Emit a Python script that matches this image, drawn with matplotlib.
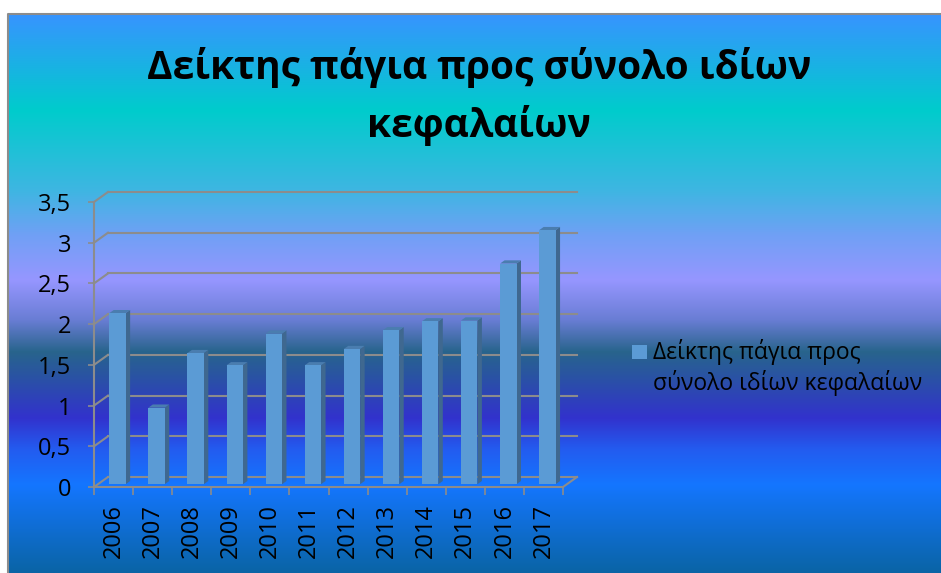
import matplotlib
matplotlib.use('Agg')
import matplotlib.pyplot as plt
import numpy as np
from matplotlib.patches import Polygon, Rectangle

plt.rcParams['font.family'] = ['Open Sans', 'DejaVu Sans']

years = ['2006', '2007', '2008', '2009', '2010', '2011',
         '2012', '2013', '2014', '2015', '2016', '2017']
values = [2.10, 0.94, 1.61, 1.46, 1.85, 1.46, 1.66, 1.89, 2.00, 2.01, 2.71, 3.12]
yticks = [0, 0.5, 1, 1.5, 2, 2.5, 3, 3.5]
ytick_labels = ['0', '0,5', '1', '1,5', '2', '2,5', '3', '3,5']
title_lines = ['Δείκτης πάγια προς σύνολο ιδίων', 'κεφαλαίων']
legend_lines = ['Δείκτης πάγια προς', 'σύνολο ιδίων κεφαλαίων']

W, H = 941, 573
fig = plt.figure(figsize=(W / 100, H / 100), dpi=100)

# background panel with the vertical colour gradient
bg = fig.add_axes([0, 0, 1, 1], zorder=0)
bg.set_xlim(0, W)
bg.set_ylim(H, 0)
bg.axis('off')
stops_y = [14, 110, 190, 235, 280, 320, 352, 378, 418, 450, 485, 573]
stops_c = np.array([
    (55, 148, 255), (0, 204, 204), (62, 182, 226), (112, 160, 245),
    (150, 150, 255), (105, 125, 212), (40, 100, 140), (42, 82, 165),
    (50, 50, 205), (35, 92, 240), (20, 118, 255), (10, 100, 165)]) / 255
rows = np.arange(14, H + 1)
grad = np.stack([np.interp(rows, stops_y, stops_c[:, k]) for k in range(3)], axis=1)
grad = np.repeat(grad[:, None, :], 2, axis=1)
bg.imshow(grad, extent=[8, W, H, 14], aspect='auto', interpolation='bilinear')
bg.plot([8, 8, W], [H, 14, 14], color='#8C8C8C', lw=1.5, solid_capstyle='butt')

# title
for line, yb in zip(title_lines, [79, 137]):
    bg.text(479, yb, line, ha='center', va='baseline', fontsize=28,
            fontweight='bold', color='black')

# legend
bg.add_patch(Rectangle((632, 345), 15, 14, facecolor='#5B9BD5', edgecolor='none'))
for line, yc in zip(legend_lines, [352, 383]):
    bg.text(653, yc, line, ha='left', va='center', fontsize=16.5, color='black')

# plot area (front plane)
ax = fig.add_axes([94 / W, (H - 487) / H, (563 - 94) / W, (487 - 202) / H], zorder=2)
ax.set_facecolor('none')
ax.set_xlim(-0.5, len(years) - 0.5)
ax.set_ylim(0, 3.5)
fig.canvas.draw()

grid_c = '#8C8C8C'
depth_px = np.array([14.0, 10.0])


def shift(d):
    p0 = ax.transData.transform((0, 0))
    return ax.transData.inverted().transform(p0 + depth_px * d)


back = shift(1.0)
x0, x1 = -0.5, len(years) - 0.5

for v in yticks:
    ax.plot([x0 + back[0], x1 + back[0]], [v + back[1]] * 2, color=grid_c,
            lw=1.5, clip_on=False, zorder=1)
    ax.plot([x0, x0 + back[0]], [v, v + back[1]], color=grid_c, lw=1.5,
            clip_on=False, zorder=1)
ax.plot([x1, x1 + back[0]], [0, back[1]], color=grid_c, lw=1.5, clip_on=False, zorder=1)

# 3D-looking bars
w = 0.42
d0, d1 = 0.28, 0.6
s0, s1 = shift(d0), shift(d1)
for i, v in enumerate(values):
    xl, xr = i - w / 2, i + w / 2
    front = [(xl + s0[0], s0[1]), (xr + s0[0], s0[1]),
             (xr + s0[0], v + s0[1]), (xl + s0[0], v + s0[1])]
    side = [(xr + s0[0], s0[1]), (xr + s0[0], v + s0[1]),
            (xr + s1[0], v + s1[1]), (xr + s1[0], s1[1])]
    top = [(xl + s0[0], v + s0[1]), (xr + s0[0], v + s0[1]),
           (xr + s1[0], v + s1[1]), (xl + s1[0], v + s1[1])]
    ax.add_patch(Polygon(side, closed=True, facecolor='#3F6890', edgecolor='none',
                         clip_on=False, zorder=3))
    ax.add_patch(Polygon(top, closed=True, facecolor='#4A7DAF', edgecolor='none',
                         clip_on=False, zorder=3))
    ax.add_patch(Polygon(front, closed=True, facecolor='#5B9BD5', edgecolor='none',
                         clip_on=False, zorder=4))

# axes, ticks and labels
for side_name in ['top', 'right']:
    ax.spines[side_name].set_visible(False)
for side_name in ['left', 'bottom']:
    ax.spines[side_name].set_color(grid_c)
    ax.spines[side_name].set_linewidth(1.5)

ax.set_yticks(yticks)
ax.set_yticklabels(ytick_labels)
ax.tick_params(axis='y', direction='out', length=4.5, width=1.2, color=grid_c,
               pad=12, labelsize=17, labelcolor='black')

ax.set_xticks(np.arange(len(years) + 1) - 0.5)
ax.set_xticklabels([])
ax.set_xticks(np.arange(len(years)), minor=True)
ax.set_xticklabels(years, minor=True, rotation=90, va='top', ha='center')
ax.tick_params(axis='x', which='major', direction='out', length=5.5, width=1.2,
               color=grid_c)
ax.tick_params(axis='x', which='minor', length=0, pad=12, labelsize=17,
               labelcolor='black')

fig.savefig('out.png', dpi=100)
